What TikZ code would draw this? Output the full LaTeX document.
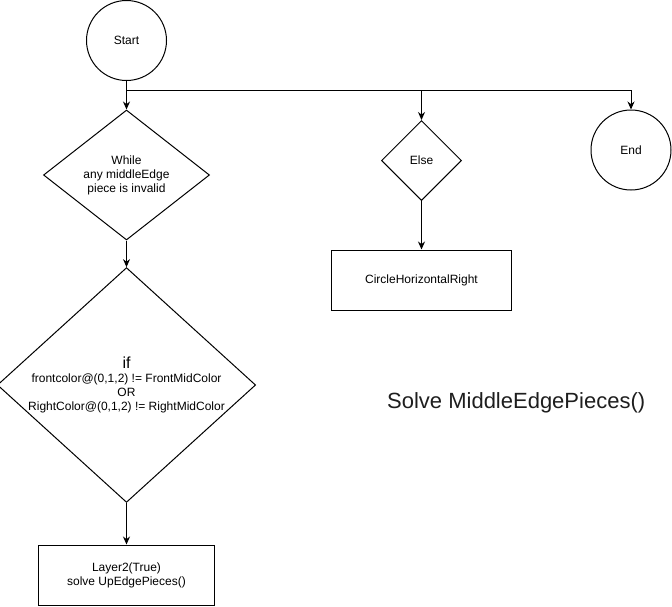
\documentclass[tikz,border=0pt]{standalone}
\usepackage{fontspec}
\setmainfont{Liberation Sans}
\usetikzlibrary{positioning, arrows.meta, shapes.geometric}
\definecolor{fgrey}{RGB}{30,30,30}

\tikzset{
    flowline/.style={draw=black, line width=1pt},
    flowarrow/.style={flowline, -{Stealth[length=8pt, width=7pt]}},
    terminal/.style={draw=black, line width=1pt, circle, minimum size=80pt, inner sep=0pt, font=\fontsize{12}{14}\selectfont},
    decision/.style={draw=black, line width=1pt, diamond, inner sep=0pt, align=center, font=\fontsize{12}{14}\selectfont},
    process/.style={draw=black, line width=1pt, rectangle, minimum height=60pt, inner sep=0pt, align=center, font=\fontsize{12}{14}\selectfont}
}

\begin{document}
\begin{tikzpicture}[x=1pt, y=-1pt]
        % page
        \useasboundingbox (0,0) rectangle (672,606);

        % start and end
        \node[terminal] (start) at (126.5,40.5) {Start};
        \node[terminal] (end) at (631,150) {End};

        % left branch
        \node[decision, minimum width=166pt, minimum height=130pt, aspect=1.28] (while) at (126.5,175) {While\\any middleEdge\\piece is invalid};
        \node[decision, minimum width=252pt, minimum height=230pt, aspect=1.1] (check) at (126.5,385)
            {{\fontsize{16}{18}\selectfont if}\\frontcolor@(0,1,2) != FrontMidColor\\OR\\RightColor@(0,1,2) != RightMidColor};
        \node[process, minimum width=176pt] (layer) at (126.5,575) {Layer2(True)\\solve UpEdgePieces()};

        % middle branch
        \node[decision, minimum width=80pt, minimum height=80pt] (else) at (421.5,160.5) {Else};
        \node[process, minimum width=180pt] (circle) at (421.5,280) {CircleHorizontalRight};

        % title
        \node[anchor=base west, inner sep=0pt, font=\fontsize{22}{26}\selectfont, text=fgrey] (title) at (387,408) {Solve MiddleEdgePieces()};

        % connectors
        \coordinate (split) at (126.5,90);
        \draw[flowline] (start.south) -- (split);
        \draw[flowarrow] (split) -- (while.north);
        \draw[flowarrow] (split) -| (else.north);
        \draw[flowarrow] (split) -| (end.north);
        \draw[flowarrow] (while.south) -- (check.north);
        \draw[flowarrow] (check.south) -- (layer.north);
        \draw[flowarrow] (else.south) -- (circle.north);

%        \draw[help lines, step=10] (0,0) grid (672,606);
    \end{tikzpicture}
\end{document}
